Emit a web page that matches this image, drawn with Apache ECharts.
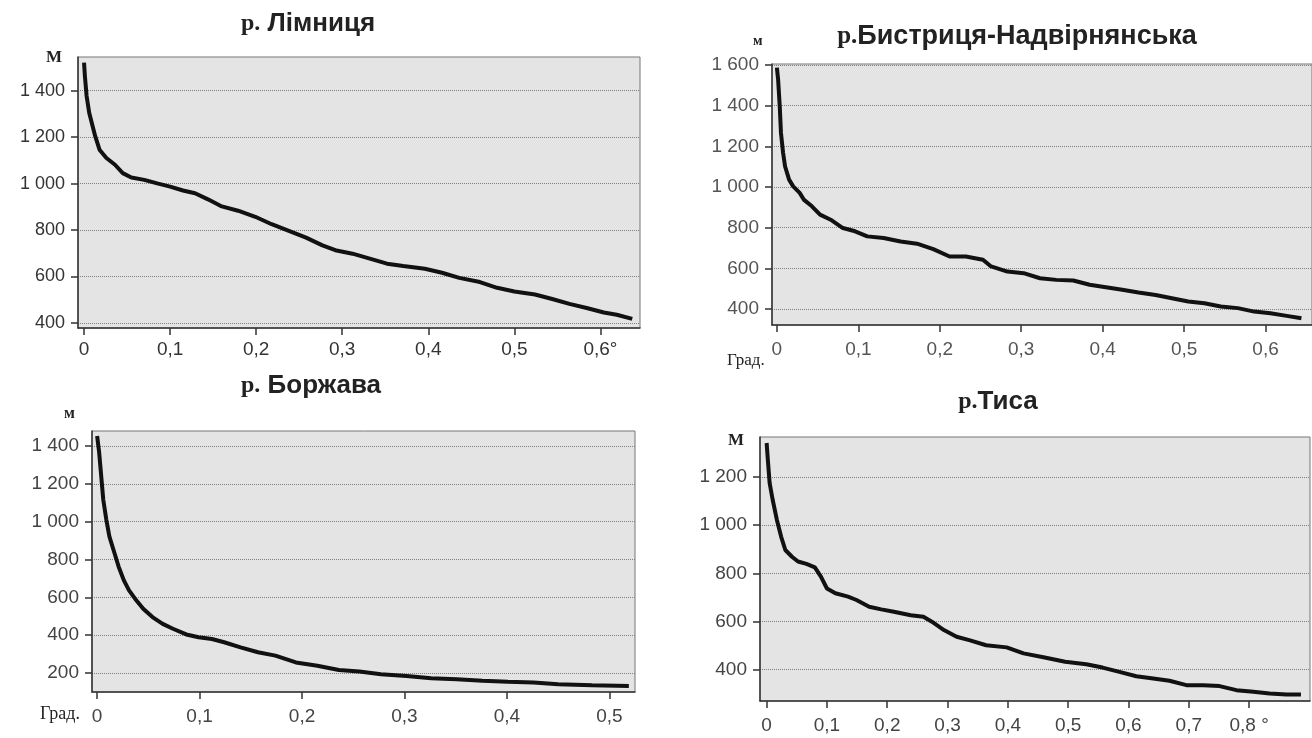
<!DOCTYPE html>
<html>
<head>
<meta charset="utf-8">
<title>Поздовжні профілі річок</title>
<style>
  html, body { margin: 0; padding: 0; background: #fff; }
  #chart { width: 1312px; height: 738px; }
</style>
<script src="https://cdn.jsdelivr.net/npm/echarts@6/dist/echarts.min.js"></script>
</head>
<body>
<div id="chart"></div>
<script>
// р. Лімниця
const limnX = [0, 0.001, 0.003, 0.006, 0.01, 0.013, 0.018, 0.026, 0.036, 0.045, 0.055, 0.07, 0.085, 0.1, 0.115, 0.129, 0.144, 0.159, 0.179, 0.199, 0.218, 0.238, 0.258, 0.277, 0.292, 0.312, 0.332, 0.352, 0.371, 0.396, 0.416, 0.436, 0.46, 0.48, 0.5, 0.524, 0.544, 0.564, 0.584, 0.604, 0.619, 0.637]
const limnY = [1521, 1464, 1377, 1305, 1247, 1204, 1146, 1110, 1081, 1045, 1026, 1016, 1001, 987, 970, 958, 932, 903, 883, 857, 825, 796, 767, 734, 713, 698, 677, 655, 645, 633, 616, 594, 576, 551, 535, 522, 503, 482, 464, 445, 435, 417]
const limnTicksX = [0, 0.1, 0.2, 0.3, 0.4, 0.5, 0.6]
const limnLabelsX = ['0', '0,1', '0,2', '0,3', '0,4', '0,5', '0,6°']
const limnTicksY = [400, 600, 800, 1000, 1200, 1400]
const limnLabelsY = ['400', '600', '800', '1 000', '1 200', '1 400']

// р. Бистриця-Надвірнянська
const bystrX = [0, 0.0015, 0.0035, 0.005, 0.0076, 0.01, 0.015, 0.02, 0.028, 0.033, 0.043, 0.053, 0.066, 0.081, 0.096, 0.111, 0.131, 0.152, 0.172, 0.192, 0.212, 0.232, 0.253, 0.263, 0.283, 0.303, 0.323, 0.343, 0.364, 0.384, 0.404, 0.424, 0.444, 0.465, 0.485, 0.505, 0.525, 0.545, 0.566, 0.586, 0.606, 0.626, 0.644]
const bystrY = [1587, 1529, 1398, 1266, 1168, 1102, 1036, 1003, 971, 938, 905, 864, 839, 798, 782, 757, 749, 732, 721, 694, 658, 658, 642, 609, 584, 576, 551, 543, 540, 519, 507, 494, 481, 469, 453, 437, 428, 412, 404, 387, 379, 366, 354]
const bystrTicksX = [0, 0.1, 0.2, 0.3, 0.4, 0.5, 0.6]
const bystrLabelsX = ['0', '0,1', '0,2', '0,3', '0,4', '0,5', '0,6']
const bystrTicksY = [400, 600, 800, 1000, 1200, 1400, 1600]
const bystrLabelsY = ['400', '600', '800', '1 000', '1 200', '1 400', '1 600']

// р. Боржава
const borzhX = [0, 0.002, 0.004, 0.006, 0.009, 0.012, 0.017, 0.021, 0.026, 0.031, 0.037, 0.045, 0.054, 0.064, 0.074, 0.087, 0.099, 0.112, 0.124, 0.14, 0.157, 0.174, 0.194, 0.215, 0.236, 0.256, 0.277, 0.302, 0.326, 0.351, 0.376, 0.401, 0.426, 0.45, 0.483, 0.519]
const borzhY = [1453, 1365, 1240, 1116, 1010, 921, 833, 762, 691, 638, 593, 540, 496, 460, 434, 404, 389, 380, 363, 336, 310, 292, 256, 239, 216, 208, 194, 185, 173, 168, 159, 154, 150, 141, 136, 132]
const borzhTicksX = [0, 0.1, 0.2, 0.3, 0.4, 0.5]
const borzhLabelsX = ['0', '0,1', '0,2', '0,3', '0,4', '0,5']
const borzhTicksY = [200, 400, 600, 800, 1000, 1200, 1400]
const borzhLabelsY = ['200', '400', '600', '800', '1 000', '1 200', '1 400']

// р. Тиса
const tysaX = [0, 0.002, 0.005, 0.01, 0.017, 0.024, 0.031, 0.042, 0.052, 0.066, 0.08, 0.09, 0.1, 0.114, 0.135, 0.149, 0.17, 0.19, 0.211, 0.239, 0.26, 0.274, 0.294, 0.315, 0.336, 0.364, 0.398, 0.426, 0.461, 0.495, 0.53, 0.557, 0.585, 0.613, 0.641, 0.668, 0.696, 0.724, 0.751, 0.779, 0.807, 0.834, 0.862, 0.886]
const tysaY = [1342, 1272, 1175, 1106, 1022, 953, 897, 869, 849, 839, 825, 786, 737, 717, 703, 689, 661, 650, 640, 626, 619, 599, 564, 536, 522, 501, 492, 467, 450, 432, 422, 408, 390, 372, 363, 353, 335, 335, 331, 314, 307, 300, 296, 296]
const tysaTicksX = [0, 0.1, 0.2, 0.3, 0.4, 0.5, 0.6, 0.7, 0.8]
const tysaLabelsX = ['0', '0,1', '0,2', '0,3', '0,4', '0,5', '0,6', '0,7', '0,8 °']
const tysaTicksY = [400, 600, 800, 1000, 1200]
const tysaLabelsY = ['400', '600', '800', '1 000', '1 200']

const SANS = 'Liberation Sans, Arial, sans-serif'
const SERIF = 'Liberation Serif, Times New Roman, serif'

function pick (ticks, labels) {
  return function (v) {
    for (let i = 0; i < ticks.length; i++) {
      if (Math.abs(ticks[i] - v) < 1e-6) return labels[i]
    }
    return ''
  }
}

function xAxisFor (gridIndex, min, max, ticks, labels, size, color, margin) {
  return {
    type: 'value',
    gridIndex: gridIndex,
    min: min,
    max: max,
    axisLine: { show: true, onZero: false, lineStyle: { color: '#333', width: 1.5 } },
    axisTick: { show: true, length: 7, customValues: ticks, lineStyle: { color: '#333', width: 1.5 } },
    axisLabel: {
      customValues: ticks,
      formatter: pick(ticks, labels),
      fontFamily: SANS,
      fontSize: size,
      color: color,
      margin: margin
    },
    splitLine: { show: false }
  }
}

function yAxisFor (gridIndex, min, max, ticks, labels, size, color) {
  return {
    type: 'value',
    gridIndex: gridIndex,
    min: min,
    max: max,
    axisLine: { show: true, onZero: false, lineStyle: { color: '#333', width: 1.5 } },
    axisTick: { show: true, length: 7, customValues: ticks, lineStyle: { color: '#333', width: 1.5 } },
    axisLabel: {
      customValues: ticks,
      formatter: pick(ticks, labels),
      fontFamily: SANS,
      fontSize: size,
      color: color,
      margin: 13
    },
    splitLine: { show: true, lineStyle: { color: '#808080', type: 'dotted', width: 1 } }
  }
}

function zip (xs, ys) {
  return xs.map((x, i) => [x, ys[i]])
}

function lineSeries (idx, xs, ys) {
  return {
    type: 'line',
    xAxisIndex: idx,
    yAxisIndex: idx,
    data: zip(xs, ys),
    showSymbol: false,
    smooth: false,
    lineStyle: { color: '#111', width: 4 },
    silent: true
  }
}

function riverTitle (name, left, top, size) {
  return {
    text: '{a|р.}{b|' + name + '}',
    left: left,
    top: top,
    textAlign: 'center',
    textStyle: {
      rich: {
        a: { fontFamily: SERIF, fontSize: size - 2, color: '#222' },
        b: { fontFamily: SANS, fontSize: size, fontWeight: 'bold', color: '#222' }
      }
    }
  }
}

const gridStyle = { show: true, backgroundColor: '#e4e4e4', borderColor: '#777', borderWidth: 1 }

const chart = echarts.init(document.getElementById('chart'))
chart.setOption({
  animation: false,
  backgroundColor: '#fff',
  title: [
    riverTitle(' Лімниця', 303, 6, 26),
    riverTitle('Бистриця-Надвірнянська', 1012, 18, 27),
    riverTitle(' Боржава', 306, 368, 26),
    riverTitle('Тиса', 993, 384, 26)
  ],
  grid: [
    Object.assign({ left: 78, top: 57, width: 562, height: 271 }, gridStyle),
    Object.assign({ left: 772, top: 64, width: 548, height: 261 }, gridStyle),
    Object.assign({ left: 92, top: 431, width: 543, height: 261 }, gridStyle),
    Object.assign({ left: 760, top: 437, width: 550, height: 264 }, gridStyle)
  ],
  xAxis: [
    xAxisFor(0, -0.007, 0.646, limnTicksX, limnLabelsX, 19, '#333', 12),
    xAxisFor(1, -0.006, 0.657, bystrTicksX, bystrLabelsX, 19, '#555', 15),
    xAxisFor(2, -0.005, 0.525, borzhTicksX, borzhLabelsX, 19, '#444', 15),
    xAxisFor(3, -0.011, 0.901, tysaTicksX, tysaLabelsX, 19, '#444', 15)
  ],
  yAxis: [
    yAxisFor(0, 378, 1545, limnTicksY, limnLabelsY, 18, '#333'),
    yAxisFor(1, 321, 1605, bystrTicksY, bystrLabelsY, 19, '#555'),
    yAxisFor(2, 100, 1479, borzhTicksY, borzhLabelsY, 19, '#444'),
    yAxisFor(3, 269, 1367, tysaTicksY, tysaLabelsY, 19, '#444')
  ],
  series: [
    lineSeries(0, limnX, limnY),
    lineSeries(1, bystrX, bystrY),
    lineSeries(2, borzhX, borzhY),
    lineSeries(3, tysaX, tysaY)
  ],
  graphic: [
    { type: 'text', left: 46, top: 49, style: { text: 'M', fontFamily: SERIF, fontSize: 17, fontWeight: 'bold', fill: '#222' } },
    { type: 'text', left: 753, top: 34, style: { text: 'м', fontFamily: SERIF, fontSize: 14, fontWeight: 'bold', fill: '#222' } },
    { type: 'text', left: 727, top: 352, style: { text: 'Град.', fontFamily: SERIF, fontSize: 17, fill: '#222' } },
    { type: 'text', left: 64, top: 406, style: { text: 'м', fontFamily: SERIF, fontSize: 16, fontWeight: 'bold', fill: '#222' } },
    { type: 'text', left: 40, top: 705, style: { text: 'Град.', fontFamily: SERIF, fontSize: 18, fill: '#222' } },
    { type: 'text', left: 728, top: 432, style: { text: 'M', fontFamily: SERIF, fontSize: 17, fontWeight: 'bold', fill: '#222' } }
  ]
})
</script>
</body>
</html>
